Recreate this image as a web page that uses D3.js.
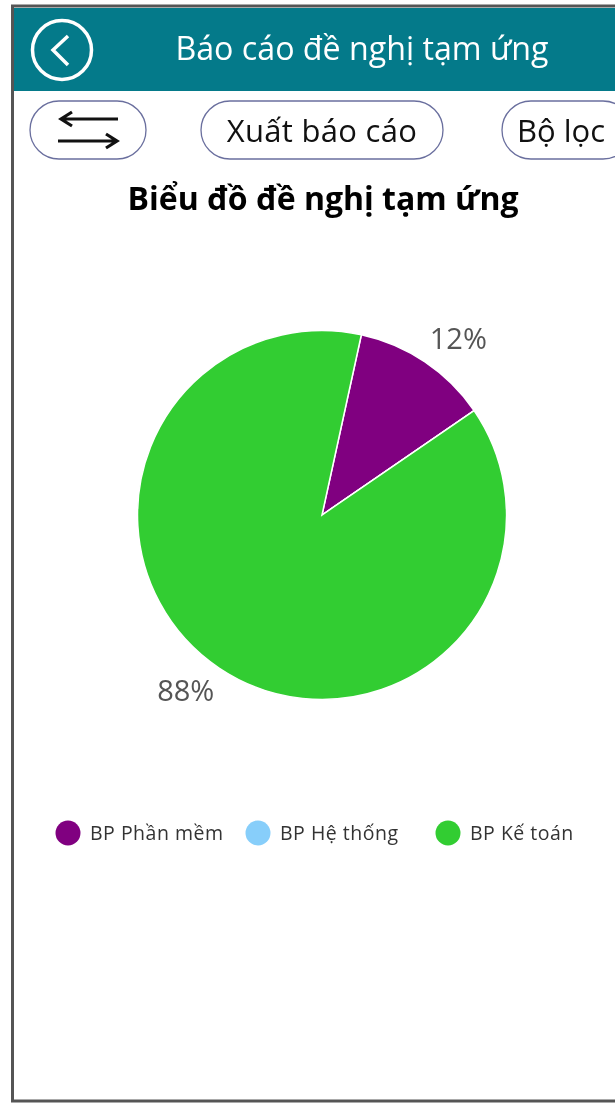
<!DOCTYPE html>
<html>
<head>
<meta charset="utf-8">
<script src="https://cdn.jsdelivr.net/npm/d3@7"></script>
<style>
html, body { margin: 0; padding: 0; background: #fff; overflow: hidden; }
svg { display: block; filter: blur(0.45px); }
text { font-family: "Open Sans", "Noto Sans", sans-serif; }
</style>
</head>
<body>
<script>
var categories = ['BP Phần mềm', 'BP Hệ thống', 'BP Kế toán']
var values = [12, 0, 88]
var colors = ['#800080', '#87CEFA', '#32CD32']
var legendX = [68, 258, 448]

var svg = d3.select('body').append('svg')
  .attr('width', 615)
  .attr('height', 1103)

// app frame
svg.append('rect').attr('x', 0).attr('y', 0).attr('width', 615).attr('height', 1103).attr('fill', '#fff')
svg.append('rect').attr('x', 12.5).attr('y', 6).attr('width', 620).attr('height', 1095)
  .attr('fill', '#fff').attr('stroke', '#555').attr('stroke-width', 3)

// header
svg.append('rect').attr('x', 14).attr('y', 8).attr('width', 601).attr('height', 83).attr('fill', '#047a8a')
svg.append('circle').attr('cx', 62).attr('cy', 50).attr('r', 29.5)
  .attr('fill', 'none').attr('stroke', '#fff').attr('stroke-width', 3.5)
svg.append('path').attr('d', 'M68 36 L53 50 L68 65')
  .attr('fill', 'none').attr('stroke', '#fff').attr('stroke-width', 3.5)
svg.append('text').attr('x', 362).attr('y', 60).attr('text-anchor', 'middle')
  .attr('font-size', 32.2).attr('fill', '#fff').text('Báo cáo đề nghị tạm ứng')

// buttons
function button(x, w) {
  svg.append('rect').attr('x', x).attr('y', 101).attr('width', w).attr('height', 58).attr('rx', 29)
    .attr('fill', '#fff').attr('stroke', '#6a6f9e').attr('stroke-width', 1.3)
}
button(30, 116)
button(201, 242)
button(502, 130)
svg.append('path').attr('d', 'M118 119 L61 119 M72 112 L61 119 L72 126 M58 141 L117 141 M106 134 L117 141 L106 148')
  .attr('fill', 'none').attr('stroke', '#111').attr('stroke-width', 3.2)
svg.append('text').attr('x', 322).attr('y', 142).attr('text-anchor', 'middle')
  .attr('font-size', 31).attr('font-weight', 500).attr('letter-spacing', 0.3).attr('fill', '#111').text('Xuất báo cáo')
svg.append('text').attr('x', 517).attr('y', 142)
  .attr('font-size', 31).attr('font-weight', 500).attr('fill', '#111').text('Bộ lọc')

svg.append('text').attr('x', 323).attr('y', 210).attr('text-anchor', 'middle')
  .attr('font-size', 32).attr('font-weight', 700).attr('fill', '#000').text('Biểu đồ đề nghị tạm ứng')

// pie
var startAngle = 0.215
var pie = d3.pie().sort(null).startAngle(startAngle).endAngle(startAngle + 2 * Math.PI)
var arc = d3.arc().innerRadius(0).outerRadius(184.5)
var labelArc = d3.arc().innerRadius(212).outerRadius(212)
var slices = pie(values)
var chart = svg.append('g').attr('transform', 'translate(322,515)')

chart.selectAll('path')
  .data(slices)
  .enter().append('path')
  .attr('d', arc)
  .attr('fill', function(d, i) { return colors[i] })
  .attr('stroke', '#fff')
  .attr('stroke-width', 1.5)

chart.selectAll('text')
  .data(slices.filter(function(d) { return d.value > 0 }))
  .enter().append('text')
  .attr('x', function(d) { return labelArc.centroid(d)[0] })
  .attr('y', function(d) { return labelArc.centroid(d)[1] })
  .attr('text-anchor', 'middle')
  .attr('dx', function(d) { return labelArc.centroid(d)[0] > 0 ? 18 : -18 })
  .attr('dy', '0.35em')
  .attr('font-size', 29)
  .attr('fill', '#555')
  .text(function(d) { return d.value + '%' })

// legend
var legend = svg.selectAll('.legend')
  .data(categories)
  .enter().append('g')
  .attr('class', 'legend')
  .attr('transform', function(d, i) { return 'translate(' + legendX[i] + ',833)' })

legend.append('circle').attr('r', 12.5).attr('fill', function(d, i) { return colors[i] })
legend.append('text').attr('x', 22).attr('dy', '0.35em')
  .attr('font-size', 19.5).attr('letter-spacing', 0.5).attr('fill', '#333').text(function(d) { return d })
</script>
</body>
</html>
